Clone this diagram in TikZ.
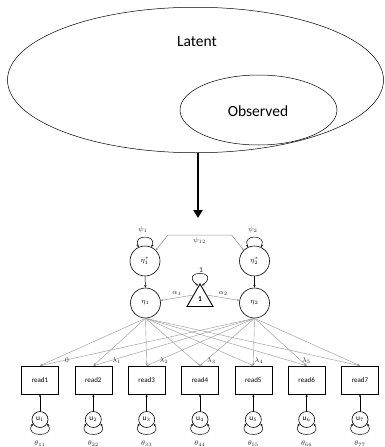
\documentclass[tikz,border=0pt]{standalone}
\usepackage{fontspec}
\setmainfont{Carlito}
\usetikzlibrary{arrows.meta,shapes.geometric,calc}

\begin{document}
\begin{tikzpicture}[x=1pt,y=-1pt,
  latentvar/.style={circle,draw,line width=0.6pt,minimum size=30pt,inner sep=0pt,
    font=\fontsize{7}{8}\selectfont},
  indicator/.style={rectangle,draw,line width=0.6pt,minimum width=37pt,minimum height=28pt,
    inner sep=0pt,font=\fontsize{7}{8}\selectfont},
  resid/.style={circle,draw,line width=0.6pt,minimum size=16pt,inner sep=0pt,
    font=\fontsize{7.5}{8}\selectfont},
  lbl/.style={font=\fontsize{7.5}{8}\selectfont,inner sep=1pt,text=black!85},
  tip/.style={-{Stealth[length=2.6pt,width=2.2pt]}},
  twotip/.style={{Stealth[length=2.6pt,width=2.2pt]}-{Stealth[length=2.6pt,width=2.2pt]}},
  loading/.style={draw=gray!85,line width=0.4pt,tip},
]
\useasboundingbox (0,0) rectangle (384,447);

% nested sets
\node[ellipse,draw,line width=0.5pt,minimum width=376pt,minimum height=145.5pt,inner sep=0pt]
  (latent) at (195.5,80) {};
\node[font=\fontsize{15.5}{18}\selectfont] (latenttxt) at (197,42) {Latent};
\node[ellipse,draw,line width=0.5pt,minimum width=157pt,minimum height=70pt,inner sep=0pt]
  (observed) at (258.5,110) {};
\node[font=\fontsize{15.5}{18}\selectfont] (observedtxt) at (258,111) {Observed};

% thick arrow down to the model
\coordinate (downtip) at (198,218);
\draw[line width=2.5pt,-{Triangle[length=8pt,width=9pt]}] (latent.south -| downtip) -- (downtip);

% latent variables
\node[latentvar] (es1) at (145,261) {$\eta_1^*$};
\node[latentvar] (es2) at (254.5,261) {$\eta_2^*$};
\node[latentvar] (e1) at (145.5,303) {$\eta_1$};
\node[latentvar] (e2) at (254.5,303) {$\eta_2$};
\node[regular polygon,regular polygon sides=3,draw,line width=0.9pt,minimum size=30pt,
  inner sep=0pt,font=\bfseries\fontsize{7.5}{8}\selectfont] (mean) at (200,299) {1};

% variances and covariance
\draw[twotip,line width=0.5pt] (es1.115) .. controls +(-6,-13) and +(6,-13) .. (es1.65);
\node[lbl] (psi1) at (143,230) {$\psi_1$};
\draw[twotip,line width=0.5pt] (es2.115) .. controls +(-6,-13) and +(6,-13) .. (es2.65);
\node[lbl] (psi2) at (253,230) {$\psi_2$};
\draw[twotip,draw=gray!85,line width=0.6pt] (es1.45) -- +(12,-15)
  -- ($(es2.135)+(-12,-15)$) node[midway,below=1pt,lbl] {$\psi_{12}$} -- (es2.135);

% structural paths
\draw[tip,line width=0.5pt] (es1) -- (e1);
\draw[tip,line width=0.5pt] (es2) -- (e2);
\draw[twotip,line width=0.5pt] ($(mean.corner 1)+(-2,2.5)$)
  .. controls +(-20,-16) and +(20,-16) .. ($(mean.corner 1)+(2,2.5)$);
\node[lbl] (meanvar) at (201,270) {1};
\draw[tip,draw=gray!85,line width=0.5pt] (mean.side 1) -- (e1) node[midway,above=1pt,lbl] {$\alpha_1$};
\draw[tip,draw=gray!85,line width=0.5pt] (mean.side 3) -- (e2) node[midway,above=1pt,lbl] {$\alpha_2$};

% indicators, residuals and loadings
\foreach \i in {1,...,7} {
  \pgfmathsetmacro{\xx}{40+53.333*(\i-1)}
  \node[indicator] (r\i) at (\xx,380) {read\i};
  \node[resid] (u\i) at (\xx,419.5) {u$_{\i}$};
  \draw[tip,line width=0.5pt] (u\i) -- (r\i);
  \draw[twotip,line width=0.5pt] (u\i.210) .. controls +(-9,14) and +(9,14) .. (u\i.330);
  \node[lbl] (th\i) at (\xx,443.5) {$\theta_{\i\i}$};
  \draw[loading] (e1.south) -- (r\i.north);
}
\foreach \i/\lam in {1/0,2/\lambda_1,3/\lambda_2,4/\lambda_3,5/\lambda_4,6/\lambda_5} {
  \draw[loading] (e2.south) -- (r\i.north) node[pos=0.89,anchor=west,lbl] {$\lam$};
}
\draw[loading] (e2.south) -- (r7.north);
\end{tikzpicture}
\end{document}
